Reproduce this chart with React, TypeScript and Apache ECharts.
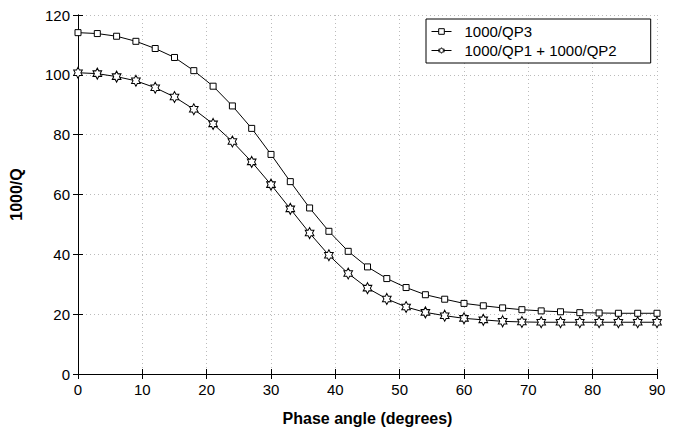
import React, { useEffect, useRef } from "react";
import * as echarts from "echarts";

const phaseAngles = [0, 3, 6, 9, 12, 15, 18, 21, 24, 27, 30, 33, 36, 39, 42, 45, 48, 51, 54, 57, 60, 63, 66, 69, 72, 75, 78, 81, 84, 87, 90];
const qp3 = [114.1, 113.8, 112.9, 111.2, 108.8, 105.8, 101.4, 96.2, 89.6, 82.1, 73.4, 64.3, 55.5, 47.7, 41.0, 35.8, 31.9, 28.9, 26.5, 25.0, 23.6, 22.8, 22.1, 21.5, 21.1, 20.8, 20.5, 20.4, 20.3, 20.3, 20.3];
const qp12 = [100.7, 100.4, 99.4, 98.0, 95.7, 92.6, 88.5, 83.6, 77.7, 70.9, 63.3, 55.2, 47.1, 39.7, 33.6, 28.7, 25.1, 22.4, 20.6, 19.5, 18.6, 18.1, 17.6, 17.4, 17.3, 17.3, 17.3, 17.3, 17.3, 17.3, 17.3];
const seriesNames = ["1000/QP3", "1000/QP1 + 1000/QP2"];
const xTitle = "Phase angle (degrees)";
const yTitle = "1000/Q";

const HEX = "path://M0,-100L28.9,-50L86.6,-50L57.7,0L86.6,50L28.9,50L0,100L-28.9,50L-86.6,50L-57.7,0L-86.6,-50L-28.9,-50Z";
const FONT = "Liberation Sans, Arial, sans-serif";

export default function App() {
  const ref = useRef<HTMLDivElement>(null);
  useEffect(() => {
    if (!ref.current) return;
    const chart = echarts.init(ref.current, null, { renderer: "svg" });
    const axisCommon = {
      type: "value" as const,
      axisLine: { show: true, lineStyle: { color: "#000", width: 1 } },
      axisTick: { show: true, inside: true, length: 5, lineStyle: { color: "#000" } },
    };
    chart.setOption({
      animation: false,
      backgroundColor: "#fff",
      textStyle: { fontFamily: FONT },
      grid: { left: 78, right: 21, top: 15, bottom: 56 },
      legend: {
        orient: "vertical",
        left: 426,
        top: 19,
        padding: [4, 34, 4, 5],
        itemGap: 2,
        itemWidth: 20,
        itemHeight: 7,
        backgroundColor: "#fff",
        borderColor: "#000",
        borderWidth: 1,
        lineStyle: { width: 1, color: "#000" },
        itemStyle: { borderWidth: 1, borderColor: "#000", color: "#fff" },
        textStyle: { fontSize: 15, lineHeight: 17, color: "#000", fontFamily: FONT, padding: [0, 0, 0, 8] },
        data: seriesNames,
      },
      xAxis: [
        {
          ...axisCommon,
          min: 0,
          max: 90,
          interval: 10,
          name: xTitle,
          nameLocation: "middle",
          nameGap: 36,
          nameTextStyle: { fontSize: 16, fontWeight: "bold", color: "#000", fontFamily: FONT },
          axisLabel: { fontSize: 15, color: "#000", margin: 8, fontFamily: FONT },
          splitLine: { show: true, lineStyle: { color: "#bbb", type: [1, 3], width: 1 } },
        },
        {
          ...axisCommon,
          position: "top",
          min: 0,
          max: 90,
          interval: 10,
          axisLabel: { show: false },
          splitLine: { show: false },
        },
      ],
      yAxis: [
        {
          ...axisCommon,
          min: 0,
          max: 120,
          interval: 20,
          name: yTitle,
          nameLocation: "middle",
          nameGap: 54,
          nameTextStyle: { fontSize: 16, fontWeight: "bold", color: "#000", fontFamily: FONT },
          axisLabel: { fontSize: 15, color: "#000", margin: 8, fontFamily: FONT },
          splitLine: { show: true, lineStyle: { color: "#bbb", type: [1, 3], width: 1 } },
        },
        {
          ...axisCommon,
          position: "right",
          min: 0,
          max: 120,
          interval: 20,
          axisLabel: { show: false },
          splitLine: { show: false },
        },
      ],
      series: [
        {
          name: seriesNames[0],
          type: "line",
          data: phaseAngles.map((x, i) => [x, qp3[i]]),
          symbol: "rect",
          symbolSize: 6,
          lineStyle: { color: "#000", width: 1 },
          itemStyle: { color: "#fff", borderColor: "#000", borderWidth: 1 },
        },
        {
          name: seriesNames[1],
          type: "line",
          data: phaseAngles.map((x, i) => [x, qp12[i]]),
          symbol: HEX,
          symbolSize: [10, 11],
          symbolKeepAspect: true,
          lineStyle: { color: "#000", width: 1 },
          itemStyle: { color: "#fff", borderColor: "#000", borderWidth: 1 },
        },
      ],
    });
    return () => chart.dispose();
  }, []);
  return <div ref={ref} style={{ width: 678, height: 431, position: "absolute", left: 0, top: 0 }} />;
}
